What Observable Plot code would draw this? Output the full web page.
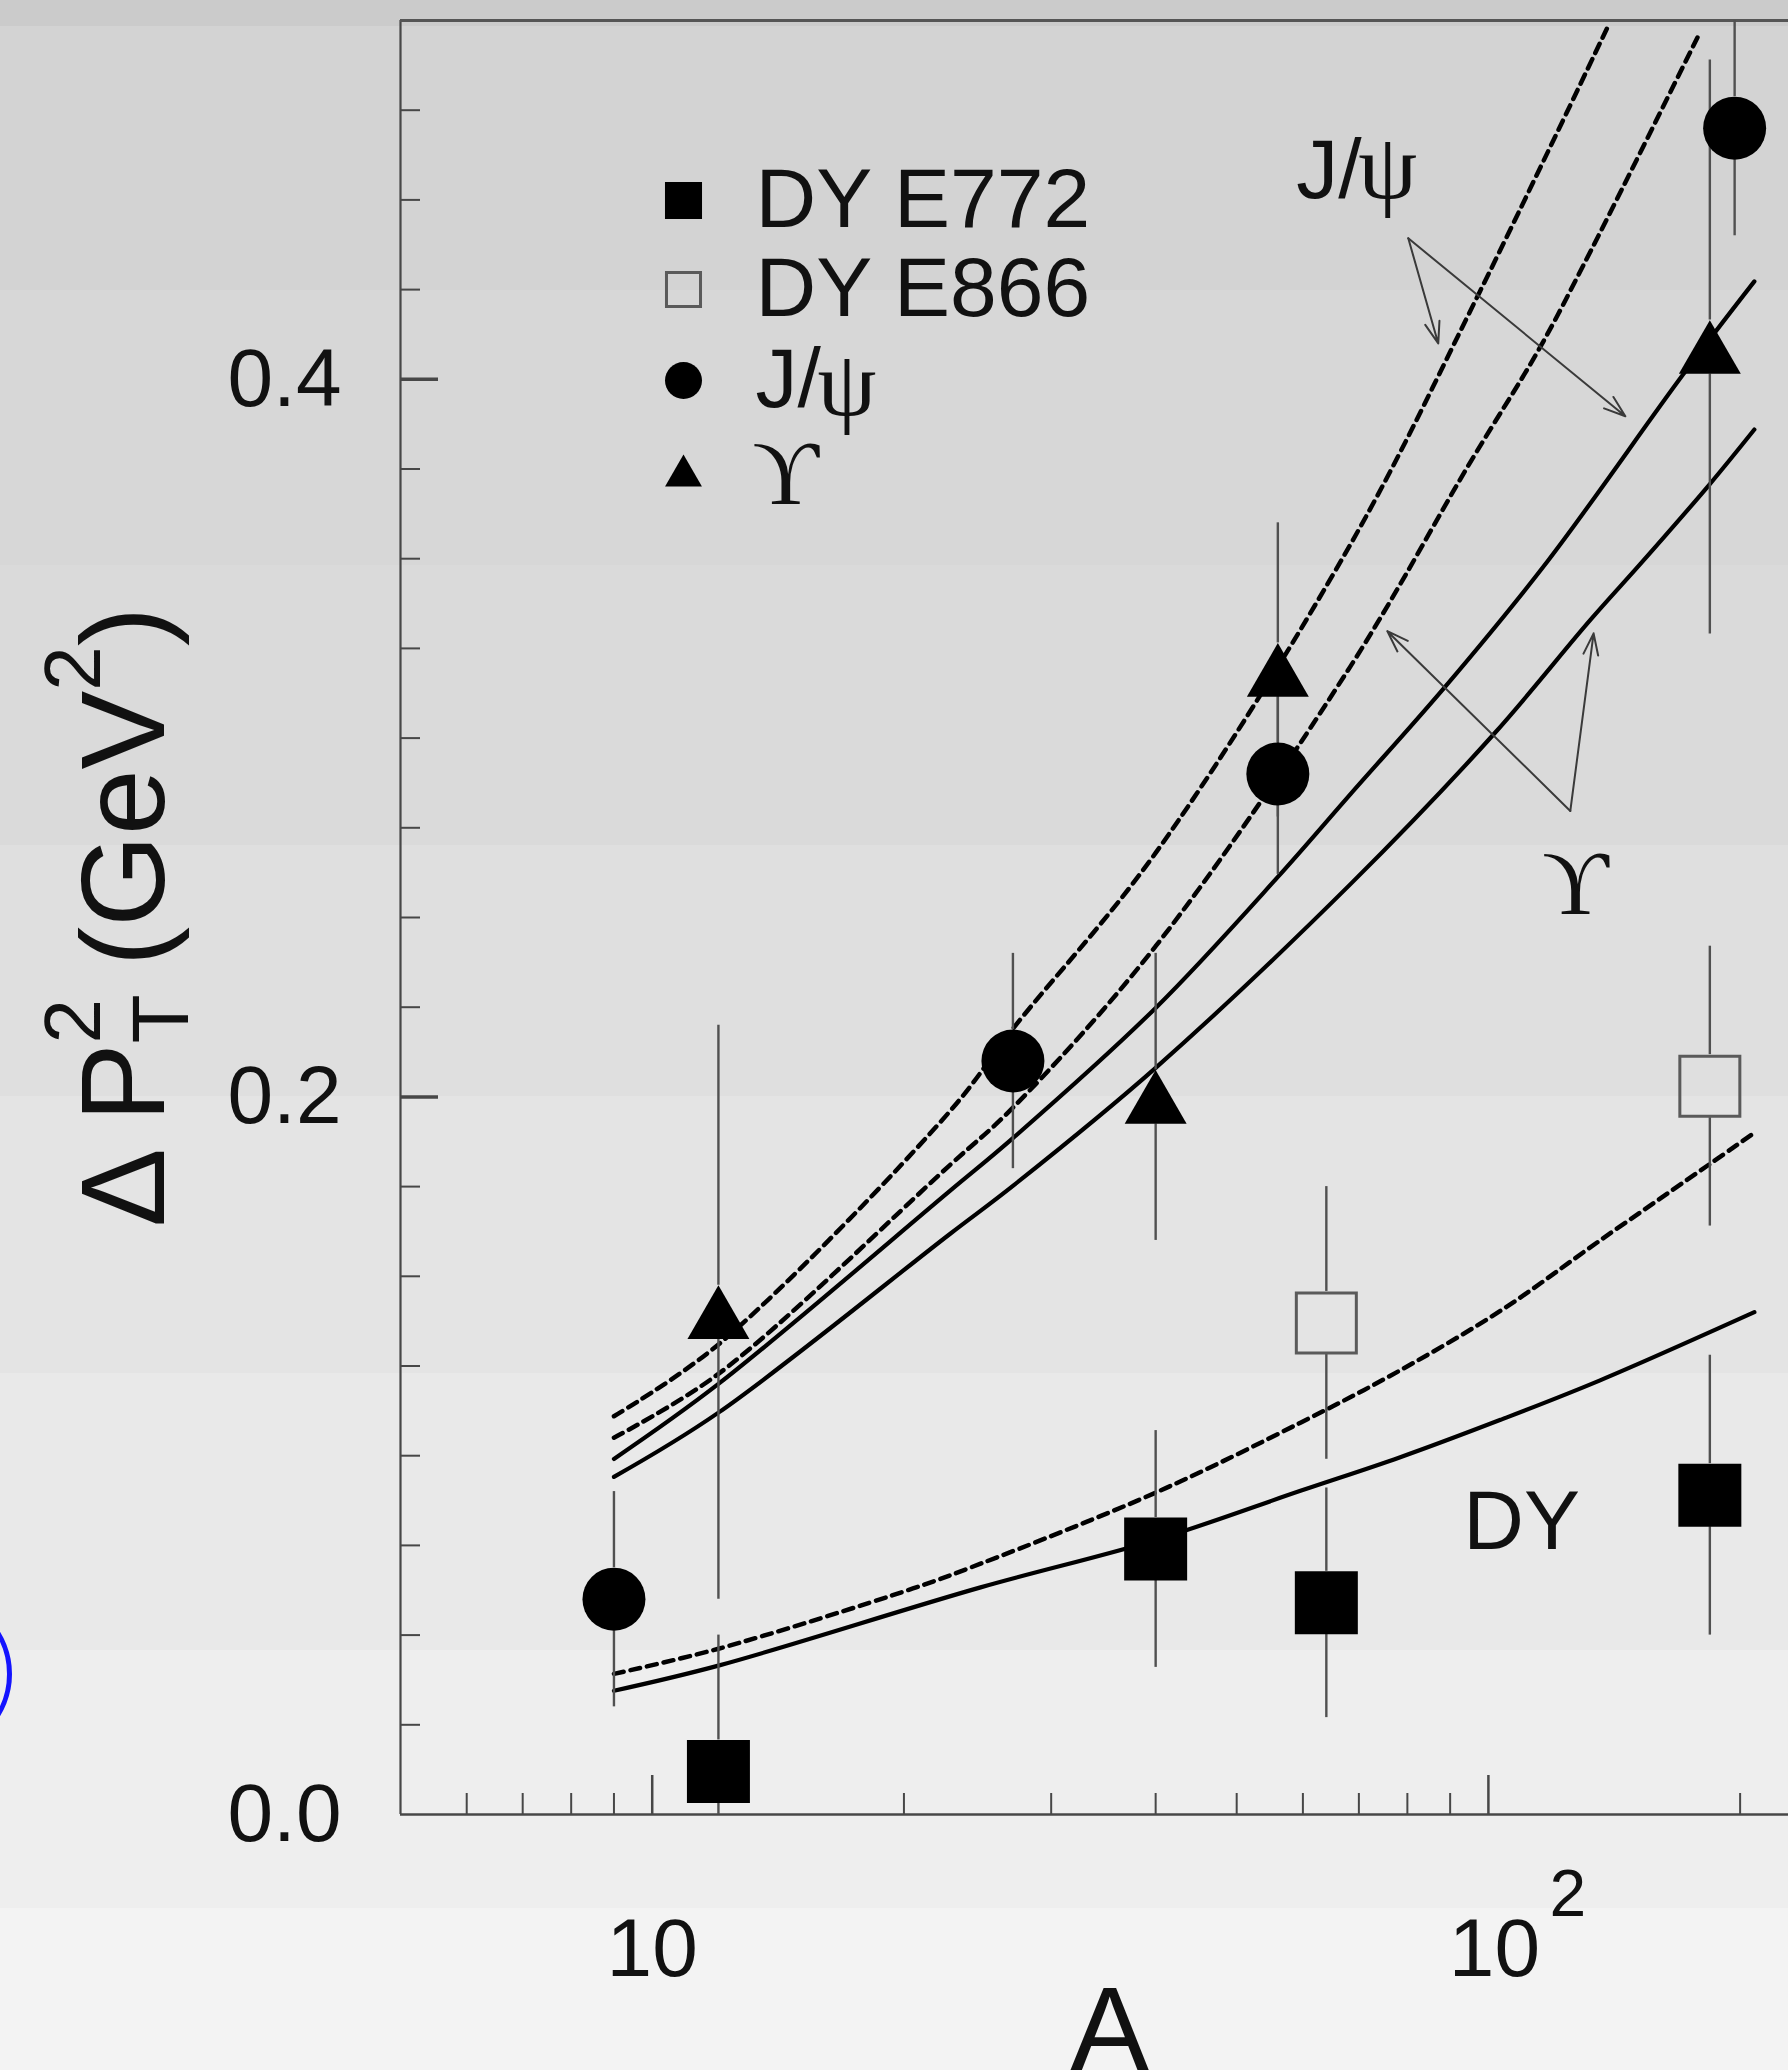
<!DOCTYPE html>
<html>
<head>
<meta charset="utf-8">
<script src="https://cdn.jsdelivr.net/npm/d3@7"></script>
<script src="https://cdn.jsdelivr.net/npm/@observablehq/plot@0.6"></script>
<style>
  html, body { margin: 0; padding: 0; }
  body {
    width: 1788px; height: 2070px; overflow: hidden; position: relative;
    background: linear-gradient(to bottom,
      #cbcbcb 0px, #cbcbcb 26px,
      #d3d3d3 26px, #d3d3d3 290px,
      #d7d7d7 290px, #d7d7d7 565px,
      #dadada 565px, #dadada 845px,
      #dfdfdf 845px, #dfdfdf 1096px,
      #e4e4e4 1096px, #e4e4e4 1373px,
      #e9e9e9 1373px, #e9e9e9 1650px,
      #eeeeee 1650px, #eeeeee 1908px,
      #f3f3f3 1908px, #f3f3f3 2070px);
  }
  #chart svg { display: block; }
  .ring {
    position: absolute; left: -148px; top: 1594px; width: 160px; height: 160px;
    border: 5px solid #1414ff; border-radius: 50%; box-sizing: border-box;
  }
</style>
</head>
<body>
<div id="chart"></div>
<div class="ring"></div>
<script>
// ---- Measured pT-broadening vs nuclear mass number A (GeV^2) ----
const dyE772A   = [12, 40, 64, 184];
const dyE772Val = [0.012, 0.074, 0.059, 0.089];
const dyE772Err = [0.038, 0.033, 0.032, 0.039];

const dyE866A   = [64, 184];
const dyE866Val = [0.137, 0.203];
const dyE866Err = [0.038, 0.039];

const jpsiA   = [9, 27, 56, 197];
const jpsiVal = [0.060, 0.210, 0.290, 0.470];
const jpsiErr = [0.030, 0.030, 0.028, 0.030];

const upsA   = [12, 40, 56, 184];
const upsVal = [0.140, 0.200, 0.319, 0.409];
const upsErr = [0.080, 0.040, 0.041, 0.080];

// ---- Model curves ----
const jpsiDashedA   = [9, 12, 22.7, 27, 40, 68.4, 97.7, 139.4];
const jpsiDashedVal = [0.111, 0.131, 0.196, 0.219, 0.268, 0.354, 0.4245, 0.499];
const jpsiSolidA    = [9, 12, 22.7, 27, 40, 55.9, 68.4, 88.9, 117.7, 171, 208];
const jpsiSolidVal  = [0.0991, 0.120, 0.1738, 0.1885, 0.2248, 0.2611, 0.2844, 0.3145, 0.3493, 0.4014, 0.4273];

const upsDashedA   = [9, 12, 22.7, 27, 40, 68.4, 95.2, 114.7, 132.5, 179];
const upsDashedVal = [0.105, 0.1228, 0.181, 0.197, 0.242, 0.320, 0.377, 0.408, 0.4357, 0.4966];
const upsSolidA    = [9, 12, 22.7, 27, 40, 68.4, 101.4, 132.5, 153, 184, 208];
const upsSolidVal  = [0.0941, 0.112, 0.1618, 0.1752, 0.2081, 0.2593, 0.301, 0.333, 0.3493, 0.3708, 0.386];

const dyDashedA   = [9, 12, 20.5, 24.7, 40, 59.6, 78.3, 103.4, 136, 184, 208];
const dyDashedVal = [0.0392, 0.0462, 0.063, 0.0699, 0.0897, 0.1092, 0.1237, 0.1404, 0.160, 0.1813, 0.190];
const dySolidA    = [9, 12, 24.7, 40, 59.6, 78.3, 103.4, 136, 208];
const dySolidVal  = [0.0345, 0.0415, 0.0633, 0.0765, 0.0902, 0.0995, 0.110, 0.121, 0.140];

// ---- Axes ----
const yTickLabels = [0, 0.2, 0.4];
const xTickLabels = [10, 100];
const xMinorTicks = [6, 7, 8, 9, 20, 30, 40, 50, 60, 70, 80, 90, 200];
const yMinorTicks = d3.range(1, 20).map(i => +(i * 0.025).toFixed(3))
  .filter(v => !yTickLabels.includes(v));

// ---- Legend and annotations ----
const legendLabels = ["DY E772", "DY E866", "J/", "\u03D2"];
const annotLabels = ["J/", "\u03C8", "\u03D2", "DY"];
const annotA   = [58.9, 58.9, 127.1, 93.3];
const annotVal = [0.4504, 0.4504, 0.251, 0.0741];
const arrowFromA   = [80.2, 80.2, 125.3, 125.3];
const arrowFromVal = [0.4393, 0.4393, 0.2797, 0.2797];
const arrowToA     = [87.1, 145.8, 75.7, 133.6];
const arrowToVal   = [0.410, 0.3897, 0.3298, 0.3292];

// ---- Layout ----
const W = 1788, H = 2070;
const mL = 400, mR = 0, mT = 20, mB = 256;
const plotW = W - mL - mR, plotH = H - mT - mB;
const axisColor = "#474747";
const barColor = "#505050";
const sans = "'Liberation Sans', Arial, Helvetica, sans-serif";
const serif = "'Liberation Serif', 'DejaVu Serif', 'Times New Roman', serif";

const rows = (A, val, err) => A.map((a, i) => ({A: a, v: val[i], e: err[i]}));
const pts = (A, val) => A.map((a, i) => ({A: a, v: val[i]}));

// Upward triangle centred on its bounding box
const triangleUp = {
  draw(context, size) {
    const s = Math.sqrt(size * 4 / Math.sqrt(3));
    const h = s * Math.sqrt(3) / 2;
    context.moveTo(0, -h / 2);
    context.lineTo(s / 2, h / 2);
    context.lineTo(-s / 2, h / 2);
    context.closePath();
  }
};

const sets = [
  {data: rows(dyE772A, dyE772Val, dyE772Err), symbol: "square", r: 35.54, fill: "black", stroke: "none", half: 31.5},
  {data: rows(dyE866A, dyE866Val, dyE866Err), symbol: "square", r: 33.85, fill: "none", stroke: "#5a5a5a", half: 31.5},
  {data: rows(jpsiA, jpsiVal, jpsiErr), symbol: "circle", r: 31.5, fill: "black", stroke: "none", half: 31.5},
  {data: rows(upsA, upsVal, upsErr), symbol: triangleUp, r: 23, fill: "black", stroke: "none", half: 27}
];

const curves = [
  {data: pts(jpsiDashedA, jpsiDashedVal), dashed: true},
  {data: pts(upsDashedA, upsDashedVal), dashed: true},
  {data: pts(jpsiSolidA, jpsiSolidVal), dashed: false},
  {data: pts(upsSolidA, upsSolidVal), dashed: false},
  {data: pts(dyDashedA, dyDashedVal), dashed: true},
  {data: pts(dySolidA, dySolidVal), dashed: false}
];

const marks = [];

// frame: left axis, bottom axis, top border
marks.push(Plot.ruleX([5], {x: d => d, stroke: axisColor, strokeWidth: 2.2}));
marks.push(Plot.ruleY([0], {y: d => d, stroke: axisColor, strokeWidth: 2.6}));
marks.push(Plot.ruleY([0.5], {y: d => d, stroke: "#555", strokeWidth: 3}));

// inward ticks
marks.push(Plot.tickY(yMinorTicks, {y: d => d, insetRight: plotW - 20, stroke: axisColor, strokeWidth: 2}));
marks.push(Plot.tickY(yTickLabels.filter(v => v > 0), {y: d => d, insetRight: plotW - 38, stroke: axisColor, strokeWidth: 3.5}));
marks.push(Plot.tickX(xMinorTicks, {x: d => d, insetTop: plotH - 21, stroke: axisColor, strokeWidth: 2}));
marks.push(Plot.tickX(xTickLabels, {x: d => d, insetTop: plotH - 39, stroke: axisColor, strokeWidth: 2.5}));

// tick labels
marks.push(Plot.text(yTickLabels, {frameAnchor: "left", y: d => d, text: d => d.toFixed(1),
  textAnchor: "end", dx: -59, fontSize: 82, fill: "#111"}));
marks.push(Plot.text(xTickLabels.slice(0, 1), {x: d => d, frameAnchor: "bottom", text: () => "10",
  lineAnchor: "top", dy: 103, fontSize: 82, fill: "#111"}));
marks.push(Plot.text(xTickLabels.slice(1), {x: d => d, frameAnchor: "bottom", text: () => "10",
  lineAnchor: "top", dy: 103, dx: 6, fontSize: 82, fill: "#111"}));
marks.push(Plot.text(xTickLabels.slice(1), {x: d => d, frameAnchor: "bottom", text: () => "2",
  textAnchor: "start", lineAnchor: "top", dy: 55, dx: 61, fontSize: 66, fill: "#111"}));

// x-axis title
marks.push(Plot.text(["A"], {frameAnchor: "bottom", text: d => d, lineAnchor: "top",
  dx: 15, dy: 172, fontSize: 118, fill: "#111"}));

// model curves
for (const c of curves) {
  marks.push(Plot.line(c.data, {x: "A", y: "v", curve: "catmull-rom", stroke: "black",
    strokeWidth: c.dashed ? 4.5 : 4.2, strokeDasharray: c.dashed ? "10,7" : null}));
}

// error bars, split around each marker (y1 is the upper end in both segments)
for (const s of sets) {
  marks.push(Plot.ruleX(s.data, {x: "A", y1: d => Math.min(0.5, d.v + d.e), y2: "v", insetBottom: s.half,
    stroke: barColor, strokeWidth: 2.4}));
  marks.push(Plot.ruleX(s.data, {x: "A", y1: "v", y2: d => Math.max(0, d.v - d.e), insetTop: s.half,
    stroke: barColor, strokeWidth: 2.4}));
}

// markers
for (const s of sets) {
  marks.push(Plot.dot(s.data, {x: "A", y: "v", symbol: s.symbol, r: s.r, fill: s.fill,
    stroke: s.stroke, strokeWidth: s.stroke === "none" ? 0 : 3}));
}

// legend
const legendRows = [180, 269, 360, 450];
const legendSym = [
  {symbol: "square", r: 20.9, fill: "black", stroke: "none"},
  {symbol: "square", r: 19.2, fill: "none", stroke: "#5a5a5a"},
  {symbol: "circle", r: 18.5, fill: "black", stroke: "none"},
  {symbol: triangleUp, r: 13.7, fill: "black", stroke: "none"}
];
legendSym.forEach((s, i) => {
  marks.push(Plot.dot([0], {frameAnchor: "top-left", dx: 283, dy: legendRows[i], symbol: s.symbol,
    r: s.r, fill: s.fill, stroke: s.stroke, strokeWidth: s.stroke === "none" ? 0 : 3}));
});
legendLabels.forEach((label, i) => {
  const isUps = i === 3;
  marks.push(Plot.text([label], {frameAnchor: "top-left", dx: isUps ? 352 : 355, dy: legendRows[i] + (isUps ? 4 : 0),
    text: d => d, textAnchor: "start", lineAnchor: "middle", fontSize: isUps ? 92 : 84,
    fontFamily: isUps ? serif : sans, fill: "#111"}));
});
marks.push(Plot.text(["\u03C8"], {frameAnchor: "top-left", dx: 355 + 62, dy: legendRows[2] + 4,
  text: d => d, textAnchor: "start", lineAnchor: "middle", fontSize: 94, fontFamily: serif, fill: "#111"}));

// annotations
const annot = annotLabels.map((t, i) => ({t, A: annotA[i], v: annotVal[i]}));
marks.push(Plot.text(annot.slice(0, 1), {x: "A", y: "v", text: "t", textAnchor: "start", lineAnchor: "bottom",
  fontSize: 84, fontFamily: sans, fill: "#111"}));
marks.push(Plot.text(annot.slice(1, 2), {x: "A", y: "v", text: "t", textAnchor: "start", lineAnchor: "bottom",
  dx: 62, fontSize: 94, fontFamily: serif, fill: "#111"}));
marks.push(Plot.text(annot.slice(2, 3), {x: "A", y: "v", text: "t", textAnchor: "middle", lineAnchor: "bottom",
  fontSize: 92, fontFamily: serif, fill: "#111"}));
marks.push(Plot.text(annot.slice(3, 4), {x: "A", y: "v", text: "t", textAnchor: "start", lineAnchor: "bottom",
  fontSize: 84, fontFamily: sans, fill: "#111"}));

const arrows = arrowFromA.map((a, i) => ({x1: a, y1: arrowFromVal[i], x2: arrowToA[i], y2: arrowToVal[i]}));
marks.push(Plot.arrow(arrows, {x1: "x1", y1: "y1", x2: "x2", y2: "y2", stroke: "#3a3a3a",
  strokeWidth: 2, headLength: 17, headAngle: 38}));

const chart = Plot.plot({
  width: W, height: H,
  marginLeft: mL, marginRight: mR, marginTop: mT, marginBottom: mB,
  style: {background: "transparent", fontFamily: sans, overflow: "visible"},
  x: {type: "log", domain: [5, 228.5], axis: null},
  y: {domain: [0, 0.5], axis: null},
  marks
});

// y-axis title with stacked sub/superscript
const svg = d3.select(chart);
const title = svg.append("text")
  .attr("transform", "translate(164,917) rotate(-90)")
  .attr("text-anchor", "middle")
  .attr("font-family", sans)
  .attr("font-size", 118)
  .attr("fill", "#111");
title.append("tspan").text("\u0394 P");
title.append("tspan").attr("font-size", 80).attr("dy", 24).text("T");
title.append("tspan").attr("font-size", 80).attr("dx", -49).attr("dy", -88).text("2");
title.append("tspan").attr("dy", 64).text(" (GeV");
title.append("tspan").attr("font-size", 80).attr("dy", -64).text("2");
title.append("tspan").attr("dy", 64).text(")");

document.getElementById("chart").appendChild(chart);
</script>
</body>
</html>
